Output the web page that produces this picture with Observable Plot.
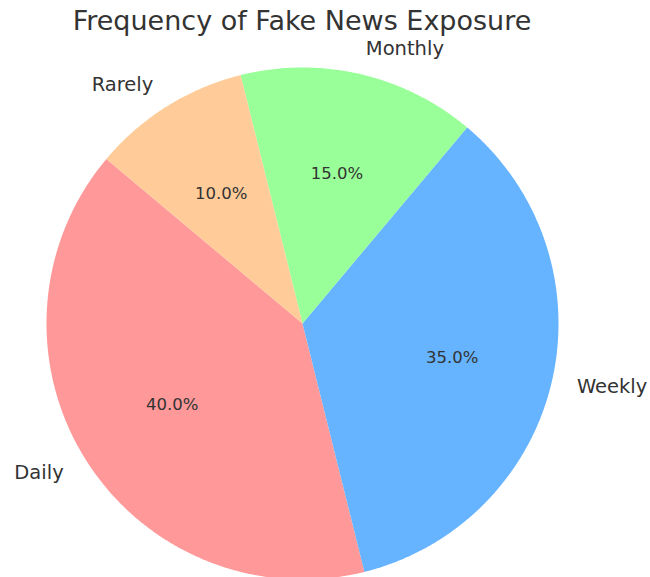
<!DOCTYPE html>
<html>
<head>
<meta charset="utf-8">
<script src="https://cdn.jsdelivr.net/npm/d3@7"></script>
<script src="https://cdn.jsdelivr.net/npm/@observablehq/plot@0.6"></script>
<style>
  body { margin: 0; background: #fff; font-family: "DejaVu Sans", sans-serif; }
  #wrap { position: relative; width: 650px; height: 577px; overflow: hidden; }
  #title { position: absolute; left: 0; top: 5px; width: 604px; text-align: center;
           font-size: 27px; color: #333; font-family: "DejaVu Sans", sans-serif; white-space: nowrap; }
  #chart { position: absolute; left: 0; top: 0; }
</style>
</head>
<body>
<div id="wrap">
  <div id="chart"></div>
  <div id="title">Frequency of Fake News Exposure</div>
</div>
<script>
const categories = ["Daily", "Weekly", "Monthly", "Rarely"];
const shares = [40, 35, 15, 10];
const colors = ["#ff9999", "#66b3ff", "#99ff99", "#ffcc99"];
const startAngle = 140; // degrees, counter-clockwise from +x

// Build slice polygons and label positions from the data
const total = d3.sum(shares);
const slices = [];
const labels = [];
let a0 = startAngle;
categories.forEach((cat, i) => {
  const sweep = shares[i] / total * 360;
  const a1 = a0 + sweep;
  const n = Math.max(8, Math.ceil(sweep * 2));
  slices.push({cat, x: 0, y: 0, order: 0});
  for (let k = 0; k <= n; k++) {
    const t = (a0 + (a1 - a0) * k / n) * Math.PI / 180;
    slices.push({cat, x: Math.cos(t), y: Math.sin(t), order: k + 1});
  }
  slices.push({cat, x: 0, y: 0, order: n + 2});
  const mid = (a0 + a1) / 2 * Math.PI / 180;
  labels.push({
    cat,
    pct: (shares[i] / total * 100).toFixed(1) + "%",
    lx: 1.1 * Math.cos(mid), ly: 1.1 * Math.sin(mid),
    px: 0.6 * Math.cos(mid), py: 0.6 * Math.sin(mid),
    anchor: Math.cos(mid) < 0 ? "end" : "start"
  });
  a0 = a1;
});

const W = 650, H = 577, R = 256, CX = 302, CY = 323;
const chart = Plot.plot({
  width: W,
  height: H,
  margin: 0,
  style: {background: "transparent", fontFamily: "DejaVu Sans, sans-serif"},
  x: {domain: [-CX / R, (W - CX) / R], axis: null},
  y: {domain: [-(H - CY) / R, CY / R], axis: null},
  color: {domain: categories, range: colors},
  marks: [
    Plot.line(slices, {x: "x", y: "y", z: "cat", fill: "cat", stroke: "none", curve: "linear-closed"}),
    Plot.text(labels.filter(d => d.anchor === "end"), {x: "lx", y: "ly", text: "cat", textAnchor: "end", fontSize: 19.5, fill: "#333"}),
    Plot.text(labels.filter(d => d.anchor === "start"), {x: "lx", y: "ly", text: "cat", textAnchor: "start", fontSize: 19.5, fill: "#333"}),
    Plot.text(labels, {x: "px", y: "py", text: "pct", fontSize: 16.5, fill: "#333"})
  ]
});
document.getElementById("chart").appendChild(chart);
</script>
</body>
</html>
